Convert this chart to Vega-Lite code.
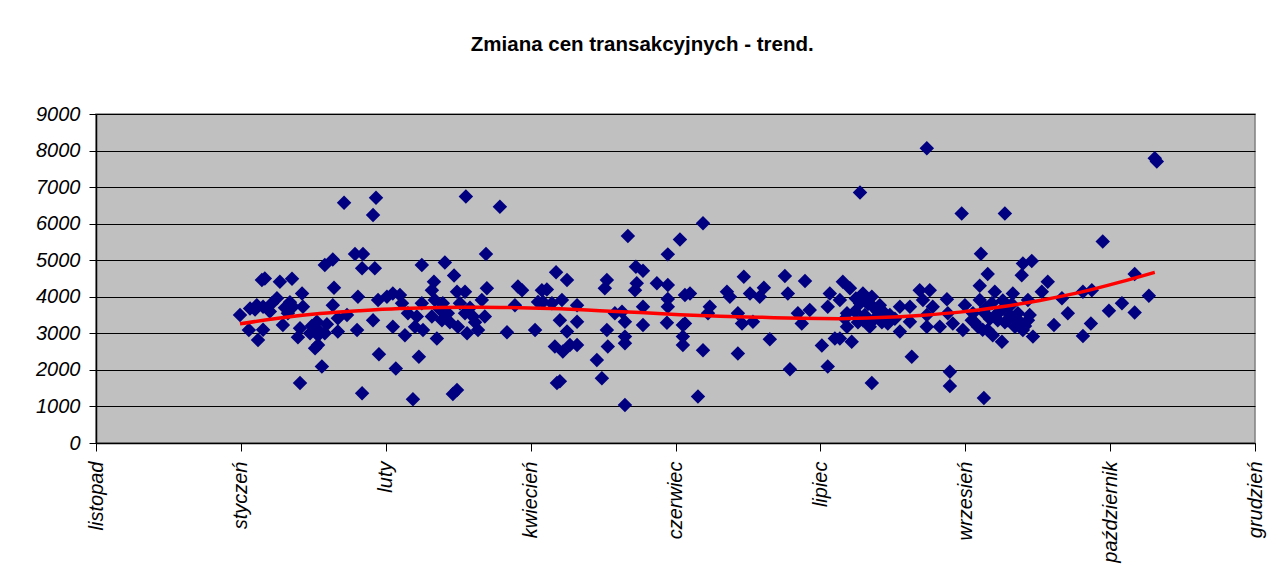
{
  "$schema": "https://vega.github.io/schema/vega-lite/v6.json",
  "autosize": "none",
  "width": 1159,
  "height": 329,
  "padding": {"left": 96, "top": 114, "right": 23, "bottom": 140},
  "background": "white",
  "title": {"text": "Zmiana cen transakcyjnych - trend.", "font": "Liberation Sans", "fontSize": 20.5, "fontWeight": "bold", "color": "black", "anchor": "middle", "frame": "bounds", "offset": 49, "dx": -8},
  "datasets": {
    "pts": [
      {"dzien":48.7,"cena":3500},{"dzien":52.1,"cena":3680},{"dzien":54.4,"cena":3770},{"dzien":56.5,"cena":3730},{"dzien":51.7,"cena":3090},{"dzien":54.8,"cena":2820},{"dzien":56.1,"cena":4460},{"dzien":57.1,"cena":4500},{"dzien":59.5,"cena":3820},{"dzien":61.2,"cena":3960},{"dzien":62.2,"cena":4410},{"dzien":66.3,"cena":4490},{"dzien":63.2,"cena":3230},{"dzien":64.9,"cena":3550},{"dzien":66.6,"cena":3730},{"dzien":69.7,"cena":4090},{"dzien":70.0,"cena":3730},{"dzien":68.3,"cena":2890},{"dzien":69.0,"cena":3140},{"dzien":69.0,"cena":1640},{"dzien":74.7,"cena":3320},{"dzien":75.7,"cena":3050},{"dzien":75.1,"cena":2680},{"dzien":74.1,"cena":2590},{"dzien":76.4,"cena":2090},{"dzien":77.4,"cena":4870},{"dzien":80.1,"cena":5020},{"dzien":80.5,"cena":4250},{"dzien":80.1,"cena":3770},{"dzien":81.8,"cena":3050},{"dzien":81.8,"cena":3410},{"dzien":83.9,"cena":6570},{"dzien":84.9,"cena":3500},{"dzien":87.6,"cena":5170},{"dzien":90.3,"cena":5170},{"dzien":90.0,"cena":4780},{"dzien":88.6,"cena":4000},{"dzien":88.3,"cena":3090},{"dzien":90.0,"cena":1360},{"dzien":94.7,"cena":6710},{"dzien":93.7,"cena":6240},{"dzien":94.3,"cena":4780},{"dzien":93.7,"cena":3360},{"dzien":95.7,"cena":2430},{"dzien":95.4,"cena":3910},{"dzien":98.4,"cena":4000},{"dzien":100.4,"cena":4090},{"dzien":100.4,"cena":3180},{"dzien":101.4,"cena":2040},
      {"dzien":58.8,"cena":3600},{"dzien":63.9,"cena":3700},{"dzien":65.6,"cena":3850},{"dzien":73.0,"cena":3200},{"dzien":72.4,"cena":3000},{"dzien":75.1,"cena":2950},{"dzien":78.1,"cena":3250},{"dzien":77.4,"cena":3000},{"dzien":56.5,"cena":3100},{"dzien":53.8,"cena":3650},
      {"dzien":102.8,"cena":4050},{"dzien":103.5,"cena":3820},{"dzien":104.5,"cena":2950},{"dzien":105.5,"cena":3550},{"dzien":107.2,"cena":1200},{"dzien":109.2,"cena":2360},{"dzien":110.2,"cena":4870},{"dzien":108.5,"cena":3460},{"dzien":110.2,"cena":3820},{"dzien":110.6,"cena":3090},{"dzien":107.9,"cena":3180},{"dzien":114.3,"cena":4410},{"dzien":113.6,"cena":4180},{"dzien":114.6,"cena":3910},{"dzien":115.3,"cena":2860},{"dzien":113.6,"cena":3460},{"dzien":118.0,"cena":4940},{"dzien":121.1,"cena":4580},{"dzien":117.3,"cena":3820},{"dzien":117.0,"cena":3360},{"dzien":119.0,"cena":3550},{"dzien":122.1,"cena":1450},{"dzien":120.7,"cena":1340},{"dzien":122.1,"cena":4140},{"dzien":124.8,"cena":4140},{"dzien":123.1,"cena":3820},{"dzien":122.4,"cena":3180},{"dzien":125.5,"cena":3000},{"dzien":124.8,"cena":3550},{"dzien":125.1,"cena":6740},{"dzien":127.5,"cena":3460},{"dzien":129.2,"cena":3090},{"dzien":130.5,"cena":3910},{"dzien":132.2,"cena":4230},{"dzien":131.9,"cena":5170},{"dzien":131.5,"cena":3460},{"dzien":136.6,"cena":6460},{"dzien":139.0,"cena":3030},{"dzien":141.7,"cena":3770},{"dzien":142.7,"cena":4280},{"dzien":144.1,"cena":4180},{"dzien":148.5,"cena":3090},{"dzien":149.5,"cena":3860},{"dzien":150.8,"cena":4180},
      {"dzien":119.7,"cena":3300},{"dzien":126.5,"cena":3700},{"dzien":128.2,"cena":3300},{"dzien":116.3,"cena":3650},
      {"dzien":151.2,"cena":3860},{"dzien":152.5,"cena":4200},{"dzien":155.6,"cena":4670},{"dzien":159.3,"cena":4460},{"dzien":154.2,"cena":3820},{"dzien":157.6,"cena":3910},{"dzien":156.9,"cena":3360},{"dzien":159.3,"cena":3050},{"dzien":155.2,"cena":2640},{"dzien":157.9,"cena":2500},{"dzien":160.3,"cena":2680},{"dzien":162.7,"cena":3770},{"dzien":162.7,"cena":3320},{"dzien":162.7,"cena":2680},{"dzien":155.9,"cena":1640},{"dzien":156.9,"cena":1690},{"dzien":169.4,"cena":2270},{"dzien":171.1,"cena":1770},{"dzien":172.8,"cena":4460},{"dzien":172.1,"cena":4230},{"dzien":172.8,"cena":3090},{"dzien":173.1,"cena":2640},{"dzien":175.5,"cena":3550},{"dzien":177.9,"cena":3590},{"dzien":178.9,"cena":3320},{"dzien":178.9,"cena":2910},{"dzien":178.9,"cena":2730},{"dzien":178.9,"cena":1040},{"dzien":179.9,"cena":5660},{"dzien":182.6,"cena":4820},{"dzien":185.0,"cena":4710},{"dzien":182.9,"cena":4370},{"dzien":182.3,"cena":4180},{"dzien":185.0,"cena":3730},{"dzien":185.0,"cena":3230},{"dzien":189.7,"cena":4370},{"dzien":193.4,"cena":4320},{"dzien":193.4,"cena":3940},{"dzien":193.4,"cena":5160},{"dzien":197.5,"cena":5570},{"dzien":193.4,"cena":3730},{"dzien":193.1,"cena":3290},{"dzien":199.2,"cena":4050},{"dzien":198.5,"cena":3230},{"dzien":198.5,"cena":2910},{"dzien":198.5,"cena":2680},
      {"dzien":205.3,"cena":6010},{"dzien":200.9,"cena":4090},{"dzien":199.2,"cena":3270},{"dzien":205.3,"cena":2540},{"dzien":203.6,"cena":1270},{"dzien":207.6,"cena":3730},{"dzien":207.0,"cena":3550},{"dzien":213.4,"cena":4140},{"dzien":214.4,"cena":4000},{"dzien":219.1,"cena":4550},{"dzien":217.1,"cena":3550},{"dzien":218.5,"cena":3270},{"dzien":217.1,"cena":2450},{"dzien":221.2,"cena":4090},{"dzien":222.2,"cena":3320},{"dzien":224.5,"cena":4000},{"dzien":225.9,"cena":4250},{"dzien":227.9,"cena":2840},{"dzien":233.0,"cena":4570},{"dzien":234.0,"cena":4090},{"dzien":234.7,"cena":2020},{"dzien":237.4,"cena":3550},{"dzien":238.7,"cena":3270},{"dzien":239.8,"cena":4430},{"dzien":241.4,"cena":3640},{"dzien":245.5,"cena":2670},{"dzien":247.5,"cena":3730},{"dzien":248.2,"cena":4090},{"dzien":247.5,"cena":2090},{"dzien":249.9,"cena":2860},
      {"dzien":251.6,"cena":3910},{"dzien":252.6,"cena":4410},{"dzien":255.0,"cena":4230},{"dzien":254.0,"cena":3550},{"dzien":251.6,"cena":2860},{"dzien":255.6,"cena":2770},{"dzien":254.0,"cena":3180},{"dzien":258.4,"cena":6850},{"dzien":259.4,"cena":4090},{"dzien":258.4,"cena":3820},{"dzien":260.7,"cena":3910},{"dzien":262.4,"cena":4000},{"dzien":262.8,"cena":3730},{"dzien":259.4,"cena":3360},{"dzien":261.7,"cena":3180},{"dzien":262.4,"cena":1640},{"dzien":265.1,"cena":3770},{"dzien":266.8,"cena":3550},{"dzien":267.8,"cena":3270},{"dzien":271.9,"cena":3730},{"dzien":271.9,"cena":3050},{"dzien":275.3,"cena":3730},{"dzien":275.3,"cena":3320},{"dzien":275.9,"cena":2360},{"dzien":278.6,"cena":4180},{"dzien":282.0,"cena":4180},{"dzien":279.7,"cena":3910},{"dzien":281.0,"cena":3500},{"dzien":281.0,"cena":3180},{"dzien":281.0,"cena":8060},{"dzien":283.0,"cena":3730},{"dzien":285.4,"cena":3180},{"dzien":287.8,"cena":3930},{"dzien":288.1,"cena":3550},{"dzien":288.8,"cena":1950},{"dzien":288.8,"cena":1560},{"dzien":289.8,"cena":3270},{"dzien":292.8,"cena":6280},{"dzien":293.9,"cena":3770},{"dzien":293.2,"cena":3090},{"dzien":296.6,"cena":3550},{"dzien":299.3,"cena":5180},{"dzien":298.9,"cena":4300},{"dzien":300.3,"cena":1230},
      {"dzien":253.3,"cena":3400},{"dzien":256.7,"cena":3600},{"dzien":257.7,"cena":3300},{"dzien":260.0,"cena":3500},{"dzien":261.1,"cena":3800},{"dzien":263.4,"cena":3400},{"dzien":264.4,"cena":3600},{"dzien":265.8,"cena":3300},{"dzien":268.5,"cena":3500},{"dzien":270.2,"cena":3400},{"dzien":257.0,"cena":3950},
      {"dzien":307.4,"cena":6280},{"dzien":301.6,"cena":4620},{"dzien":298.9,"cena":3910},{"dzien":300.6,"cena":3550},{"dzien":304.0,"cena":4140},{"dzien":303.0,"cena":3820},{"dzien":301.6,"cena":3090},{"dzien":306.4,"cena":2770},{"dzien":305.0,"cena":3360},{"dzien":308.4,"cena":3730},{"dzien":310.1,"cena":4090},{"dzien":313.1,"cena":4590},{"dzien":313.5,"cena":4910},{"dzien":316.5,"cena":4980},{"dzien":311.8,"cena":3550},{"dzien":313.5,"cena":3090},{"dzien":315.2,"cena":3910},{"dzien":316.9,"cena":2910},{"dzien":321.9,"cena":4410},{"dzien":319.9,"cena":4140},{"dzien":315.2,"cena":3360},{"dzien":296.2,"cena":3360},{"dzien":298.3,"cena":3180},{"dzien":308.4,"cena":3360},{"dzien":310.8,"cena":3180},{"dzien":326.7,"cena":3960},{"dzien":324.0,"cena":3230},{"dzien":328.7,"cena":3550},{"dzien":333.8,"cena":4140},{"dzien":336.8,"cena":4180},{"dzien":336.5,"cena":3270},{"dzien":333.8,"cena":2930},{"dzien":340.5,"cena":5510},{"dzien":342.6,"cena":3620},{"dzien":347.0,"cena":3820},
      {"dzien":297.2,"cena":3300},{"dzien":299.9,"cena":3100},{"dzien":302.3,"cena":3400},{"dzien":303.3,"cena":2950},{"dzien":305.7,"cena":3600},{"dzien":306.7,"cena":3900},{"dzien":307.4,"cena":3300},{"dzien":309.1,"cena":3500},{"dzien":309.8,"cena":3800},{"dzien":311.4,"cena":3400},{"dzien":312.5,"cena":3300},{"dzien":314.2,"cena":3200},{"dzien":315.8,"cena":3500},{"dzien":301.0,"cena":3700},{"dzien":304.3,"cena":3500},
      {"dzien":351.3,"cena":3570},{"dzien":351.3,"cena":4620},{"dzien":356.1,"cena":4030},{"dzien":358.1,"cena":7790},{"dzien":358.8,"cena":7700}
    ],
    "trend": [
      {"dzien":48.7,"cena":3260},{"dzien":62.2,"cena":3420},{"dzien":75.7,"cena":3540},{"dzien":89.3,"cena":3620},{"dzien":102.8,"cena":3680},{"dzien":116.3,"cena":3710},{"dzien":129.9,"cena":3715},{"dzien":143.4,"cena":3700},{"dzien":156.9,"cena":3670},{"dzien":170.4,"cena":3620},{"dzien":184.0,"cena":3570},{"dzien":197.5,"cena":3510},{"dzien":211.0,"cena":3470},{"dzien":224.5,"cena":3440},{"dzien":238.1,"cena":3410},{"dzien":251.6,"cena":3400},{"dzien":265.1,"cena":3430},{"dzien":278.6,"cena":3490},{"dzien":292.2,"cena":3580},{"dzien":305.7,"cena":3720},{"dzien":319.2,"cena":3900},{"dzien":332.8,"cena":4120},{"dzien":346.3,"cena":4400},{"dzien":358.1,"cena":4670}
    ]
  },
  "config": {
    "view": {"fill": "#C0C0C0", "stroke": "#808080", "strokeWidth": 1.5},
    "axis": {"labelFont": "Liberation Sans", "labelFontSize": 20, "labelFontStyle": "italic", "labelColor": "black", "domainColor": "black", "domainWidth": 1.5, "tickColor": "black", "tickWidth": 1, "title": null, "labelOverlap": false, "labelBound": false, "labelFlush": false}
  },
  "encoding": {
    "x": {"field": "dzien", "type": "quantitative", "scale": {"domain": [0, 392], "nice": false, "zero": false},
      "axis": {"values": [0, 49, 98, 147, 196, 245, 294, 343, 392], "labelExpr": "['listopad','styczeń','luty','kwiecień','czerwiec','lipiec','wrzesień','październik','grudzień'][round(datum.value/49)]", "labelAngle": -90, "grid": false, "tickSize": 8, "labelPadding": 10}},
    "y": {"field": "cena", "type": "quantitative", "scale": {"domain": [0, 9000], "nice": false},
      "axis": {"values": [0, 1000, 2000, 3000, 4000, 5000, 6000, 7000, 8000, 9000], "format": "d", "grid": true, "gridColor": "black", "gridWidth": 1, "gridOpacity": 1, "tickSize": 7, "labelPadding": 9}}
  },
  "layer": [
    {
      "data": {"name": "pts"},
      "mark": {"type": "point", "shape": "diamond", "filled": true, "size": 210, "color": "#000080", "opacity": 1, "strokeWidth": 0}
    },
    {
      "data": {"name": "trend"},
      "mark": {"type": "line", "color": "#FF0000", "strokeWidth": 3.5, "interpolate": "monotone"}
    }
  ]
}
